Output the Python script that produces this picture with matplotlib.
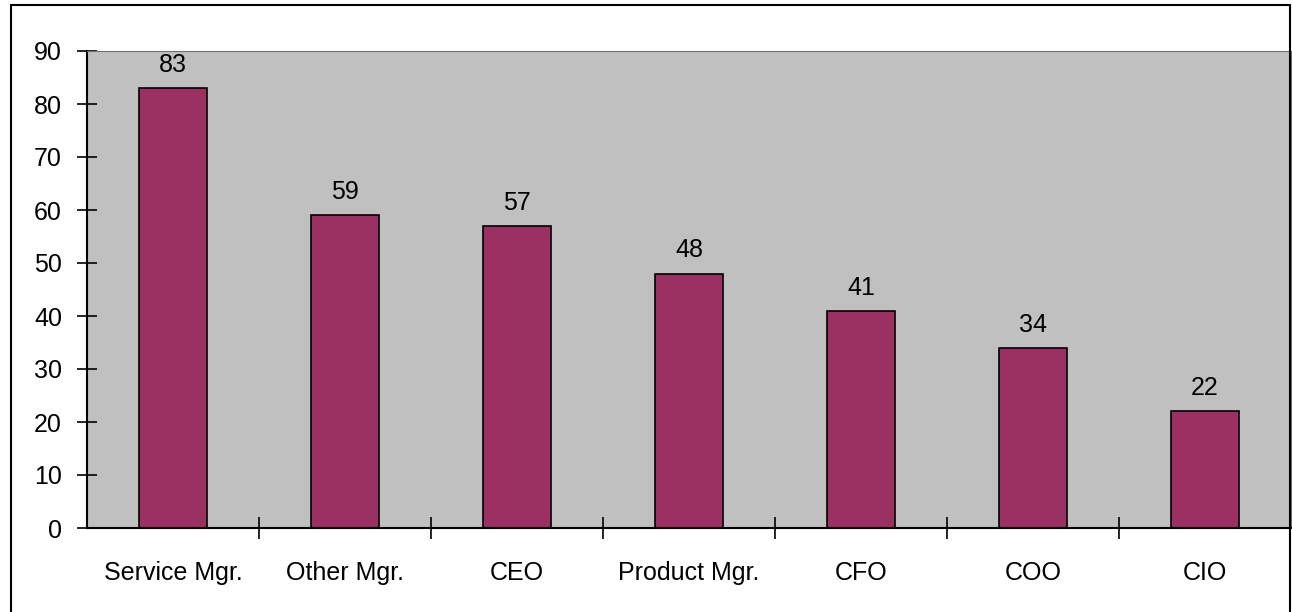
import matplotlib.pyplot as plt
from matplotlib.patches import Rectangle

categories = ["Service Mgr.", "Other Mgr.", "CEO", "Product Mgr.", "CFO", "COO", "CIO"]
values = [83, 59, 57, 48, 41, 34, 22]
y_ticks = [0, 10, 20, 30, 40, 50, 60, 70, 80, 90]

plt.rcParams['font.family'] = ['Liberation Sans', 'DejaVu Sans']

fig = plt.figure(figsize=(12.92, 6.12), dpi=100)
ax = fig.add_axes([87 / 1292, 1 - 528 / 612, (1291 - 87) / 1292, (528 - 51) / 612])

# fondo gris del area de trazado
ax.set_facecolor("#c0c0c0")
x = range(len(categories))
bars = ax.bar(x, values, width=0.4, color="#9b3062", edgecolor="black", linewidth=1.2)

# etiquetas encima de cada barra
for xi, v in zip(x, values):
    ax.annotate(str(v), (xi, v), xytext=(0, 8), textcoords="offset points",
                ha="center", va="bottom", fontsize=18)

ax.set_xlim(-0.5, len(categories) - 0.5)
ax.set_ylim(0, 90)
ax.set_yticks(y_ticks)
ax.tick_params(axis="y", direction="inout", length=14, width=1.2, labelsize=18, pad=11)

# ticks del eje x entre categorias, etiquetas en el centro
ax.set_xticks([i + 0.5 for i in x[:-1]])
ax.set_xticklabels([])
ax.set_xticks(list(x), minor=True)
ax.set_xticklabels(categories, minor=True)
ax.tick_params(axis="x", which="major", direction="inout", length=16, width=1.2)
ax.tick_params(axis="x", which="minor", length=0, labelsize=18, pad=24)

for side in ["left", "bottom"]:
    ax.spines[side].set_linewidth(1.5)
ax.spines["top"].set_color("#707070")
ax.spines["right"].set_color("#707070")

# marco exterior de la figura
fig.patches.append(Rectangle((11 / 1292, -0.05), (1290 - 11) / 1292, 1.05 - 5 / 612,
                             transform=fig.transFigure, fill=False,
                             edgecolor="black", linewidth=1.5))

fig.savefig("out.png", dpi=100)
